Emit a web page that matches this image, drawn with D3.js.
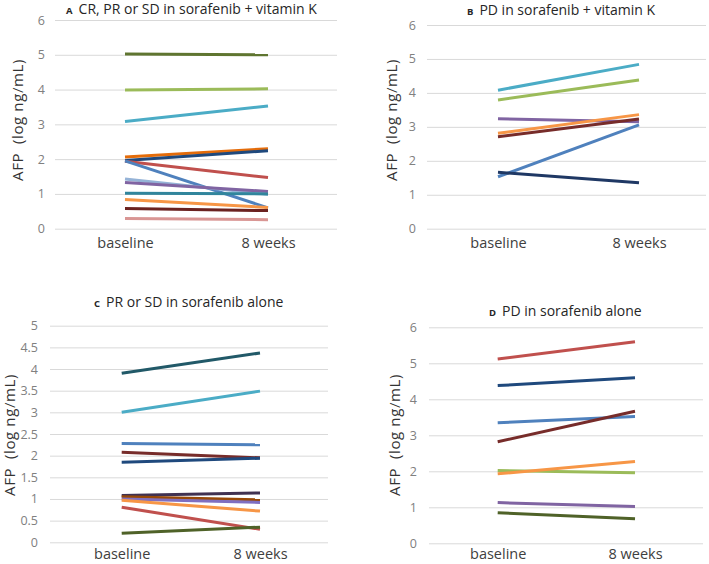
<!DOCTYPE html>
<html><head><meta charset="utf-8">
<script src="https://cdn.jsdelivr.net/npm/d3@7"></script>
<style>body{margin:0;background:#fff}svg{display:block}text{font-family:"Open Sans","Noto Sans",sans-serif}</style>
</head><body>
<script>
// ---- data ----
const categories = ["baseline", "8 weeks"];

const titleA = "CR, PR or SD in sorafenib + vitamin K";
const baselineA = [5.02, 3.99, 3.08, 2.06, 1.96, 1.94, 1.95, 1.43, 1.33, 1.02, 0.84, 0.58, 0.29];
const weeksA    = [5.00, 4.02, 3.53, 2.30, 2.24, 1.47, 0.60, 0.99, 1.07, 1.00, 0.61, 0.52, 0.26];
const ticksA = [0, 1, 2, 3, 4, 5, 6];

const titleB = "PD in sorafenib + vitamin K";
const baselineB = [4.08, 3.79, 3.24, 2.81, 2.71, 1.53, 1.66];
const weeksB    = [4.84, 4.38, 3.15, 3.36, 3.23, 3.06, 1.35];
const ticksB = [0, 1, 2, 3, 4, 5, 6];

const titleC = "PR or SD in sorafenib alone";
const baselineC = [3.90, 3.00, 2.28, 2.08, 1.85, 1.08, 1.05, 1.00, 0.97, 0.81, 0.21];
const weeksC    = [4.37, 3.49, 2.25, 1.95, 1.94, 1.14, 0.98, 0.92, 0.72, 0.30, 0.35];
const ticksC = [0, 0.5, 1, 1.5, 2, 2.5, 3, 3.5, 4, 4.5, 5];

const titleD = "PD in sorafenib alone";
const baselineD = [5.12, 4.38, 3.35, 2.82, 2.02, 1.93, 1.13, 0.85];
const weeksD    = [5.60, 4.60, 3.52, 3.67, 1.96, 2.27, 1.02, 0.68];
const ticksD = [0, 1, 2, 3, 4, 5, 6];

const yTitle = "AFP  (log ng/mL)";

// ---- styles ----
const colorsA = ["#5f7530","#9bbb59","#4bacc6","#e46c0a","#1f497d","#c0504d","#4f81bd","#95b3d7","#8064a2","#31859c","#f79646","#6b2220","#d99694"];
const colorsB = ["#4bacc6","#9bbb59","#8064a2","#f79646","#772c2a","#4f81bd","#1f3864"];
const colorsC = ["#215968","#4bacc6","#4f81bd","#772c2a","#1f497d","#403151","#984807","#7f6fc0","#f79646","#c0504d","#4f6228"];
const colorsD = ["#c0504d","#1f497d","#4f81bd","#772c2a","#9bbb59","#f79646","#8064a2","#4f6228"];

const svg = d3.select("body").append("svg").attr("width", 709).attr("height", 564);

function panel(o) {
  const g = svg.append("g");
  const yMax = o.ticks[o.ticks.length - 1];
  const y = d3.scaleLinear().domain([0, yMax]).range([o.y0, o.y1]);
  const x = d3.scalePoint().domain(categories).range([o.bx, o.wx]);

  // gridlines
  const grid = g.append("g").attr("transform", `translate(${o.gx1},0)`)
    .call(d3.axisLeft(y).tickValues(o.ticks).tickSize(o.gx1 - o.gx0).tickFormat(""));
  grid.select(".domain").remove();
  grid.selectAll("line").attr("stroke", "#d9d9d9").attr("stroke-width", 1);

  // y tick labels
  const ya = g.append("g").attr("transform", `translate(${o.tx},0)`)
    .call(d3.axisLeft(y).tickValues(o.ticks).tickSize(0).tickPadding(0).tickFormat(d3.format("")));
  ya.select(".domain").remove();
  ya.selectAll("text").attr("fill", "#808080").attr("font-size", 12.5);

  // x category labels
  const xa = g.append("g").attr("transform", `translate(0,${o.cy})`)
    .call(d3.axisBottom(x).tickSize(0).tickPadding(0));
  xa.select(".domain").remove();
  xa.selectAll("text").attr("fill", "#404040").attr("font-size", 14.5).attr("dy", "0.35em");

  // lines
  const rows = o.base.map((b, i) => [b, o.wk[i]]);
  g.append("g").selectAll("line").data(rows).join("line")
    .attr("x1", x(categories[0])).attr("x2", x(categories[1]))
    .attr("y1", d => y(d[0])).attr("y2", d => y(d[1]))
    .attr("stroke", (d, i) => o.colors[i]).attr("stroke-width", 3).attr("stroke-linecap", "butt");

  // y title
  g.append("text").attr("transform", `translate(${o.ytx},${o.yty}) rotate(-90)`)
    .attr("text-anchor", "middle").attr("dy", "0.35em").attr("fill", "#333333").attr("font-size", 15)
    .attr("letter-spacing", 0.6).style("white-space", "pre")
    .text(yTitle);

  // title
  const t = g.append("text").attr("x", o.ttx).attr("y", o.tty).attr("dy", "0.35em").attr("fill", "#262626");
  t.append("tspan").attr("font-size", 9.5).attr("font-weight", "bold").text(o.letter);
  t.append("tspan").attr("font-size", 14).attr("dx", 6).text(o.title);
}

panel({letter:"A", title:titleA, base:baselineA, wk:weeksA, colors:colorsA, ticks:ticksA,
  y0:228.7, y1:20, bx:125, wx:268, gx0:55, gx1:337, tx:45, cy:243, ytx:18, yty:120, ttx:66, tty:8});
panel({letter:"B", title:titleB, base:baselineB, wk:weeksB, colors:colorsB, ticks:ticksB,
  y0:228.7, y1:25, bx:498, wx:639, gx0:427, gx1:706, tx:416, cy:243, ytx:392, yty:120, ttx:467, tty:9.5});
panel({letter:"C", title:titleC, base:baselineC, wk:weeksC, colors:colorsC, ticks:ticksC,
  y0:542.3, y1:325.7, bx:121.7, wx:260, gx0:50, gx1:328, tx:38, cy:554, ytx:10, yty:435, ttx:94, tty:301.5});
panel({letter:"D", title:titleD, base:baselineD, wk:weeksD, colors:colorsD, ticks:ticksD,
  y0:543.3, y1:327.3, bx:497.7, wx:635, gx0:429, gx1:703, tx:417, cy:554, ytx:395, yty:435, ttx:489, tty:310.5});
</script>
</body></html>
